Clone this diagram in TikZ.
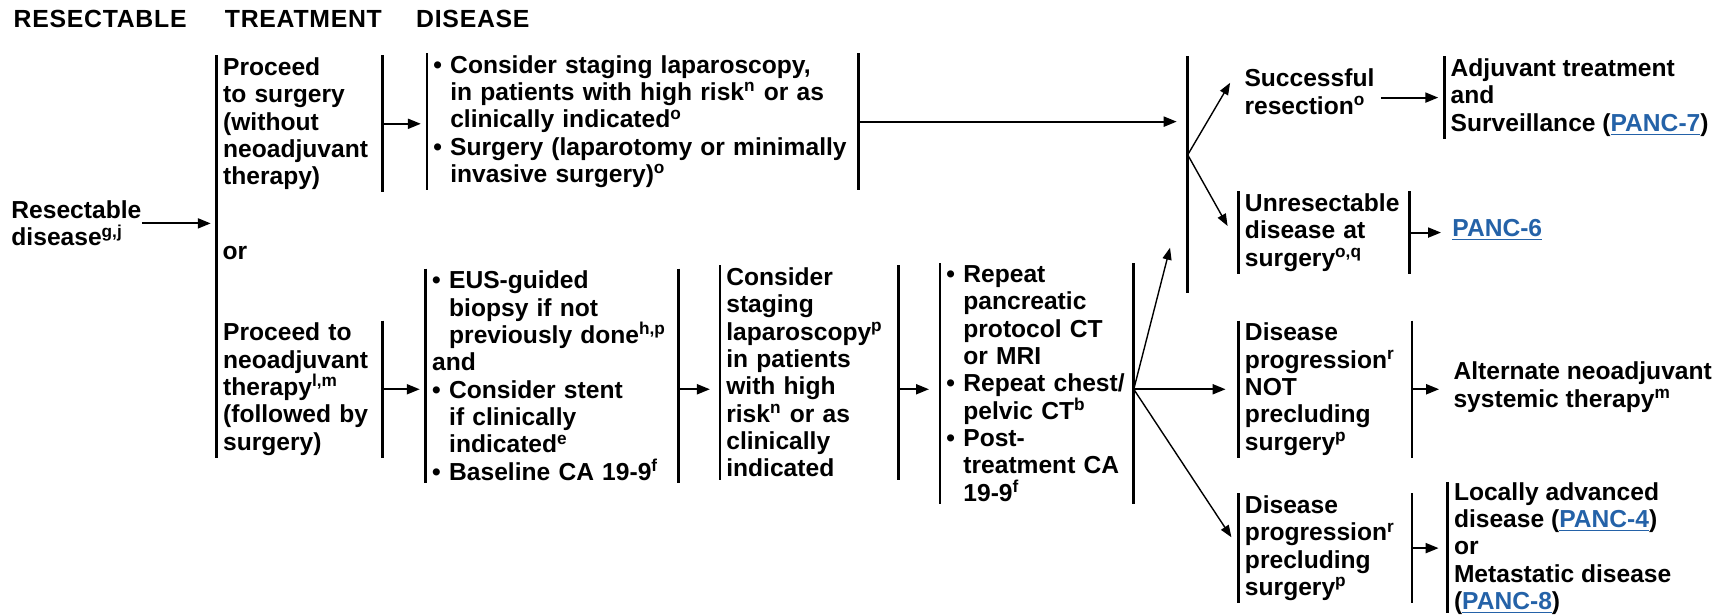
\documentclass[tikz,border=0pt]{standalone}
\usepackage{fontspec}
\setmainfont{Liberation Sans}
\newfontfamily\hdrfont[LetterSpace=3]{Liberation Sans}
\usepackage{xcolor}
\usetikzlibrary{arrows.meta,positioning,calc}
\definecolor{linkblue}{RGB}{36,98,168}
\newcommand{\nbul}{\makebox[8.5pt][l]{\textbullet}}
\newcommand{\nind}{\hspace*{8.5pt}}
\newcommand{\panc}[1]{\textcolor{linkblue}{\underline{PANC-#1}}}
\newcommand{\sups}[1]{\textsuperscript{#1}}

\begin{document}
\begin{tikzpicture}[x=0.553pt, y=-0.553pt,
  font=\fontsize{12.3}{13.66}\selectfont\bfseries,
  blk/.style={anchor=north west, align=left, inner xsep=3pt, inner ysep=1pt},
  txt/.style={anchor=west, align=left, inner sep=0pt},
  hdr/.style={anchor=west, inner sep=0pt, font=\hdrfont\fontsize{12.4}{13.66}\selectfont\bfseries},
  bar/.style={line width=1.3pt},
  arr/.style={line width=1pt, -{Triangle[length=6.5pt,width=5pt]}, shorten >=4pt},
  thin/.style={line width=0.7pt, -{Triangle[length=6pt,width=4.5pt]}}]
\useasboundingbox (0,0) rectangle (1568,557);
% column headers
\node[hdr] (h1) at (12,17)  {RESECTABLE};
\node[hdr] (h2) at (203,17) {TREATMENT};
\node[hdr] (h3) at (376,17) {DISEASE};
% left column
\node[txt] (res) at (10,202) {Resectable\\disease\sups{g,j}};
\node[blk, text width=76.4pt] (t1) at (196,50) {Proceed\\to surgery\\(without\\neoadjuvant\\therapy)};
\node[txt] (or) at (201,229) {or};
\node[blk, text width=76.4pt] (t2) at (196,290) {Proceed to\\neoadjuvant\\therapy\sups{l,m}\\(followed by\\surgery)};
% upfront surgery
\node[blk, text width=209.5pt] (d1) at (386,48) {\nbul Consider staging laparoscopy,\\\nind in patients with high risk\sups{n} or as\\\nind clinically indicated\sups{o}\\\nbul Surgery (laparotomy or minimally\\\nind invasive surgery)\sups{o}};
% neoadjuvant path
\node[blk, text width=120pt] (d2) at (385,243) {\nbul EUS-guided\\\nind biopsy if not\\\nind previously done\sups{h,p}\\and\\\nbul Consider stent\\\nind if clinically\\\nind indicated\sups{e}\\\nbul Baseline CA 19-9\sups{f}};
\node[blk, text width=83pt] (lap) at (651,240) {Consider\\staging\\laparoscopy\sups{p}\\in patients\\with high\\risk\sups{n} or as\\clinically\\indicated};
\node[blk, text width=90.5pt] (rep) at (850,238) {\nbul Repeat\\\nind pancreatic\\\nind protocol CT\\\nind or MRI\\\nbul Repeat chest/\\\nind pelvic CT\sups{b}\\\nbul Post-\\\nind treatment CA\\\nind 19-9\sups{f}};
% outcomes
\node[txt] (succ) at (1125,83) {Successful\\resection\sups{o}};
\node[blk] (adj) at (1306,51) {Adjuvant treatment\\and\\Surveillance (\panc{7})};
\node[blk, text width=79pt] (unres) at (1120,173) {Unresectable\\disease at\\surgery\sups{o,q}};
\node[txt] (p6) at (1313,208) {\panc{6}};
\node[blk, text width=80.3pt] (notp) at (1120,290) {Disease\\progression\sups{r}\\NOT\\precluding\\surgery\sups{p}};
\node[txt] (alt) at (1314,350) {Alternate neoadjuvant\\systemic therapy\sups{m}};
\node[blk, text width=80.3pt] (prec) at (1120,446) {Disease\\progression\sups{r}\\precluding\\surgery\sups{p}};
\node[blk] (loc) at (1309,434) {Locally advanced\\disease (\panc{4})\\or\\Metastatic disease\\(\panc{8})};
% surgery bracket
\coordinate (rt) at (1074,51);
\coordinate (rb) at (1074,265);
\coordinate (rm) at (1074,140);
\coordinate (tosurg) at (1058,224);
\coordinate (fork) at (rep.east |- t2.east);
% bars
\draw[bar] (t1.north west) -- (t2.south west);
\draw[bar] (t1.north east) -- (t1.south east);
\draw[bar] (t2.north east) -- (t2.south east);
\foreach \n in {d1,d2,lap,rep,unres,notp,prec} {
  \draw[bar] (\n.north west) -- (\n.south west);
  \draw[bar] (\n.north east) -- (\n.south east);
}
\draw[bar] (adj.north west) -- (adj.south west);
\draw[bar] ([yshift=-1pt]loc.north west) -- ([yshift=2pt]loc.south west);
\draw[bar] (rt) -- (rb);
% connectors
\draw[arr, shorten >=3pt] (res.east) -- (res.east -| t1.west);
\draw[arr, shorten >=3pt] (t1.east) -- (t1.east -| d1.west);
\draw[arr, shorten >=5.5pt] (d1.east) -- (d1.east -| rt);
\draw[thin] (rm) -- ([xshift=-7pt,yshift=4.5pt]succ.west);
\draw[thin] (rm) -- ([xshift=-5.5pt,yshift=3.3pt]unres.west);
\draw[arr, shorten >=3pt] (adj.west -| succ.east) ++(3pt,0) -- (adj.west);
\draw[arr, shorten >=5.5pt] (unres.east) -- (unres.east -| p6.west);
\draw[arr, shorten >=3pt] (t2.east) -- (t2.east -| d2.west);
\draw[arr, shorten >=5pt] (d2.east |- t2.east) -- (lap.west |- t2.east);
\draw[arr, shorten >=5.5pt] (lap.east |- t2.east) -- (fork -| rep.west);
\draw[thin] (fork) -- (tosurg);
\draw[arr, shorten >=6.5pt] (fork) -- (fork -| notp.west);
\draw[thin, shorten >=6.5pt] (fork) -- (prec.west);
\draw[arr, shorten >=7pt] (notp.east) -- (notp.east -| alt.west);
\draw[arr, shorten >=4.5pt] (prec.east) -- (prec.east -| loc.west);
\end{tikzpicture}
\end{document}
